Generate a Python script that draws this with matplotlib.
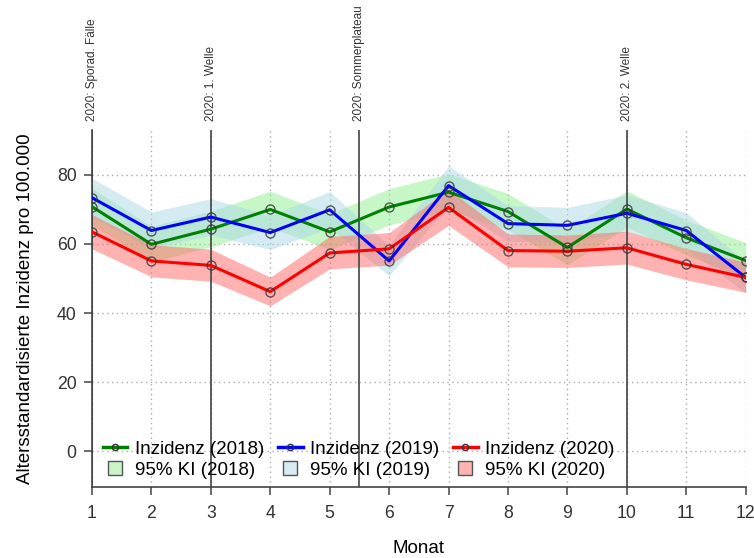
import matplotlib
matplotlib.use("Agg")
import matplotlib.pyplot as plt
from matplotlib.lines import Line2D

plt.rcParams['font.family'] = ['Liberation Sans', 'DejaVu Sans']

months = [1, 2, 3, 4, 5, 6, 7, 8, 9, 10, 11, 12]

inc_2018 = [70.8, 59.9, 64.3, 70.0, 63.5, 70.7, 75.0, 69.4, 59.0, 70.1, 61.8, 55.2]
lo_2018 = [65.5, 54.8, 59.2, 64.8, 58.4, 65.5, 69.8, 64.2, 54.0, 64.9, 56.8, 50.2]
hi_2018 = [76.2, 65.1, 69.5, 75.3, 68.7, 76.0, 80.3, 74.6, 64.1, 75.4, 66.9, 60.4]

inc_2019 = [73.4, 63.9, 67.8, 63.3, 69.9, 55.1, 76.9, 65.9, 65.4, 68.9, 63.9, 50.3]
lo_2019 = [67.9, 58.6, 62.6, 58.4, 64.7, 50.8, 71.3, 60.8, 60.3, 63.6, 58.8, 45.8]
hi_2019 = [79.0, 69.3, 73.1, 68.3, 75.2, 59.5, 82.6, 71.1, 70.6, 74.2, 69.1, 54.9]

inc_2020 = [63.5, 55.1, 53.8, 46.2, 57.4, 58.6, 70.6, 58.1, 57.9, 58.9, 54.1, 50.3]
lo_2020 = [58.6, 50.5, 49.2, 42.1, 52.8, 53.9, 65.4, 53.4, 53.2, 54.2, 49.6, 46.0]
hi_2020 = [68.5, 59.8, 58.5, 50.4, 62.2, 63.3, 75.8, 62.9, 62.6, 63.7, 58.7, 54.7]

event_x = [1, 3, 5.5, 10]
event_labels = ["2020: Sporad. Fälle", "2020: 1. Welle", "2020: Sommerplateau", "2020: 2. Welle"]

yticks = [0, 20, 40, 60, 80]

fig = plt.figure(figsize=(7.54, 5.58), dpi=100)
ax = fig.add_axes([0.122, 0.127, 0.867, 0.64])

series = [
    (inc_2018, lo_2018, hi_2018, 'green', '#90EE90', 0.5, '2018'),
    (inc_2019, lo_2019, hi_2019, 'blue', '#ADD8E6', 0.5, '2019'),
    (inc_2020, lo_2020, hi_2020, 'red', '#FF6666', 0.5, '2020'),
]

for inc, lo, hi, col, bcol, alpha, yr in series:
    ax.fill_between(months, lo, hi, color=bcol, alpha=alpha, linewidth=0, zorder=2)
for inc, lo, hi, col, bcol, alpha, yr in series:
    ax.plot(months, inc, color=col, lw=2.2, zorder=4)
    ax.plot(months, inc, linestyle='none', marker='o', ms=6.5, mfc='none',
            mec='#333333', mew=1.0, alpha=0.8, zorder=5)

for x, lab in zip(event_x, event_labels):
    ax.axvline(x, color='#444444', lw=1.2, zorder=3)
    ax.annotate(lab, xy=(x, 1.0), xycoords=('data', 'axes fraction'),
                xytext=(0, 6.5), textcoords='offset points',
                rotation=90, ha='center', va='bottom', fontsize=8.5, color='#333333')

ax.set_xlim(1, 12)
ax.set_ylim(-10.4, 93)
ax.set_xticks(months)
ax.set_yticks(yticks)
ax.grid(True, linestyle=(0, (1, 2.5)), color='#aaaaaa', lw=1.0, zorder=0)
ax.set_axisbelow(True)
for s in ['top', 'right']:
    ax.spines[s].set_visible(False)
for s in ['left', 'bottom']:
    ax.spines[s].set_color('#444444')
    ax.spines[s].set_linewidth(1.2)
ax.tick_params(axis='both', direction='out', length=6, width=1.1, color='#444444',
               labelsize=12.7, labelcolor='#333333')
ax.tick_params(axis='x', pad=7)
ax.tick_params(axis='y', pad=5)
ax.set_xlabel('Monat', fontsize=13.5, labelpad=13)
ax.set_ylabel('Altersstandardisierte Inzidenz pro 100.000', fontsize=13.5, labelpad=16.5)

handles = [
    Line2D([], [], color='green', lw=2.5, marker='o', ms=4.5, mfc='none', mec='#333333'),
    Line2D([], [], linestyle='none', marker='s', ms=10.5, mfc='#C9F5C9', mec='#555555', mew=1.0),
    Line2D([], [], color='blue', lw=2.5, marker='o', ms=4.5, mfc='none', mec='#333333'),
    Line2D([], [], linestyle='none', marker='s', ms=10.5, mfc='#D6EBF2', mec='#555555', mew=1.0),
    Line2D([], [], color='red', lw=2.5, marker='o', ms=4.5, mfc='none', mec='#333333'),
    Line2D([], [], linestyle='none', marker='s', ms=10.5, mfc='#FFB3B3', mec='#555555', mew=1.0),
]
labels = ['Inzidenz (2018)', '95% KI (2018)', 'Inzidenz (2019)', '95% KI (2019)',
          'Inzidenz (2020)', '95% KI (2020)']
ax.legend(handles, labels, ncol=3, loc='lower left',
          bbox_to_anchor=(103 / 754, (558 - 479) / 558), bbox_transform=fig.transFigure,
          frameon=False, fontsize=13.5, handlelength=1.3, handletextpad=0.4,
          columnspacing=0.75, labelspacing=0.22, borderpad=0, borderaxespad=0)

fig.savefig('out.png', dpi=100)
